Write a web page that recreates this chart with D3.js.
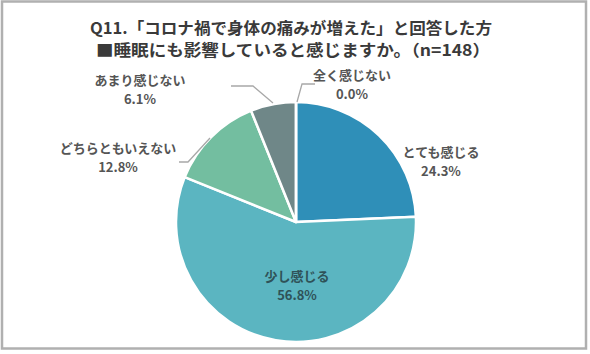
<!DOCTYPE html>
<html><head><meta charset="utf-8">
<script src="https://cdn.jsdelivr.net/npm/d3@7"></script>
<style>body{margin:0;background:#fff;} svg{display:block;}</style>
</head><body>
<svg id="c" width="590" height="354"></svg>
<script>
const titleLines = ["Q11.「コロナ禍で身体の痛みが増えた」と回答した方", "■睡眠にも影響していると感じますか。（n=148）"];
const categories = ["とても感じる", "少し感じる", "どちらともいえない", "あまり感じない", "全く感じない"];
const values = [24.3, 56.8, 12.8, 6.1, 0.0];
const colors = ["#2f8fb8", "#5bb5c1", "#73bea0", "#6f8788", "#8a9a9a"];

const svg = d3.select("#c");
svg.append("rect").attr("x",2).attr("y",1.5).attr("width",584).attr("height",347)
  .attr("fill","#fff").attr("stroke","#b0b0b0").attr("stroke-width",2.5);

const titleLayout = [{x:90, w:402, y:34}, {x:96, w:394, y:56}];
const tg = svg.append("g").attr("font-family","'Noto Sans CJK JP','Noto Sans',sans-serif")
  .attr("font-weight","bold").attr("font-size",16).attr("fill","#3a3a3a");
titleLines.forEach((t,i)=>tg.append("text").attr("x",titleLayout[i].x).attr("y",titleLayout[i].y)
  .attr("textLength",titleLayout[i].w).attr("lengthAdjust","spacingAndGlyphs").text(t));

const cx = 296, cy = 222, r = 120;
const data = categories.map((c,i)=>({cat:c, v:values[i], color:colors[i]}));
const pie = d3.pie().value(d=>d.v).sort(null);
const arc = d3.arc().innerRadius(0).outerRadius(r);
const g = svg.append("g").attr("transform",`translate(${cx},${cy})`);
const arcs = pie(data);
g.selectAll("path").data(arcs).enter().append("path")
  .attr("d",arc).attr("fill",d=>d.data.color)
  .attr("stroke","#fff").attr("stroke-width",2.5).attr("stroke-linejoin","round");

// label layout (relative to pie center)
const labelPos = [
  {dx:145, dy:-65},
  {dx:1, dy:59},
  {dx:-178, dy:-69},
  {dx:-156, dy:-137},
  {dx:56, dy:-142}
];
const leaders = [
  null, null,
  [[-117,-60],[-108,-60],[-86,-84]],
  [[-65,-136],[-43,-136],[-23,-119]],
  [[19,-138],[6,-138],[1,-120]]
];
leaders.forEach(l=>{ if(!l) return;
  g.append("path").attr("d",d3.line()(l)).attr("fill","none").attr("stroke","#a8a8a8").attr("stroke-width",1.3);
});
const lg = g.append("g").attr("font-family","'Noto Sans CJK JP','Noto Sans',sans-serif")
  .attr("font-size",13).attr("font-weight","bold").attr("text-anchor","middle");
arcs.forEach((a,i)=>{
  const p = labelPos[i];
  const col = i===1 ? "#2f5258" : "#555555";
  lg.append("text").attr("x",p.dx).attr("y",p.dy).attr("fill",col).text(a.data.cat);
  lg.append("text").attr("x",p.dx).attr("y",p.dy+19).attr("fill",col).text(d3.format(".1f")(a.data.v)+"%");
});
</script>
</body></html>
